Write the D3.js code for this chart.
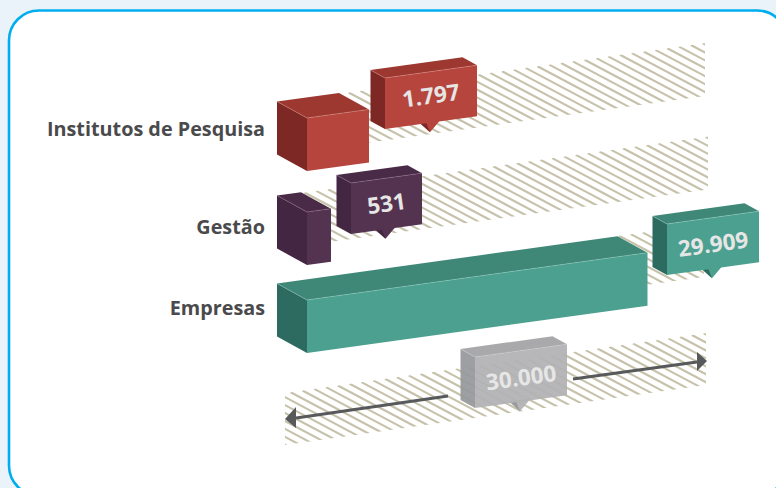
<!DOCTYPE html>
<html><head><meta charset="utf-8">
<style>html,body{margin:0;padding:0;background:#fff}svg{display:block}</style>
<script src="https://cdn.jsdelivr.net/npm/d3@7/dist/d3.min.js"></script>
</head><body><svg id="c" width="776" height="488"></svg>
<script>
const categories = ["Institutos de Pesquisa", "Gestão", "Empresas"];
const values = [1797, 531, 29909];
const valueLabels = ["1.797", "531", "29.909"];
const axisMax = 30000;
const axisLabel = "30.000";
// the original's bar lengths are not linear: piecewise stops
const scaleDomain = [0, 531, 1797, 29909, axisMax];
const scaleRange = [0, 24, 62, 340.5, 341.5];
const rowFrontY = [118, 212, 300];          // front-top-left corner y per row
const calloutAnchor = [[385,78],[351,183],[667,224]];  // callout front-top-left
const calloutWidth = [92,71,92];
const calloutTextNudge = [-3,-1.5,-0.5];
const palette = [
  {front:"#b5453d",top:"#9c3830",side:"#7d2824",edge:"#d98a84"},
  {front:"#543350",top:"#4a2b47",side:"#432642",edge:"#8d6f8a"},
  {front:"#4ca08f",top:"#3f8878",side:"#2d6b60",edge:"#8fc9bc"}
];
const greyCol = {front:"#b1b2b4",top:"#a2a3a5",side:"#97989b",edge:"#c9cacc"};

const svg = d3.select("#c");
const x = d3.scaleLinear().domain(scaleDomain).range(scaleRange);
const W=776,H=488,slope=-0.139,barH=53,dep=[-30,-16.5],cDep=[-14.5,-8],cH=51;
const path = d3.line();
const poly=(g,pts,fill,op)=>g.append("path").attr("d",path(pts)+"Z").attr("fill",fill).attr("fill-opacity",op==null?1:op);

svg.append("rect").attr("width",W).attr("height",H).attr("fill","#e9f3f9");
svg.append("rect").attr("x",9).attr("y",10.5).attr("width",778).attr("height",485).attr("rx",30)
  .attr("fill","#fff").attr("stroke","#00aeef").attr("stroke-width",2.6);

const defs=svg.append("defs");
function hatch(id,x0,y0,x1,s,h){
  const yAt=v=>y0+(v-x0)*s;
  defs.append("clipPath").attr("id",id).append("path")
    .attr("d",path([[x0,yAt(x0)],[x1,yAt(x1)],[x1,yAt(x1)+h],[x0,yAt(x0)+h]])+"Z");
  const g=svg.append("g").attr("clip-path",`url(#${id})`);
  const k=0.53;
  d3.range(x1+6-160*12,x1+6,11.8).forEach(tx=>{
    if(tx<x0-120)return;
    g.append("line").attr("x1",tx).attr("y1",yAt(tx))
      .attr("x2",tx+100).attr("y2",yAt(tx)+100*k)
      .attr("stroke","#c6c2aa").attr("stroke-width",2.1);
  });
}
hatch("h0",338,94,705,slope,53);
hatch("h1",301,193,708,slope,53);
hatch("h2",617,236,704,slope,53);
hatch("h3",285,393,706,-0.1425,52);

function box(g,tl,w,h,d,c,s,op){
  const tr=[tl[0]+w,tl[1]+w*s], bl=[tl[0],tl[1]+h], br=[tr[0],tr[1]+h];
  const D=p=>[p[0]+d[0],p[1]+d[1]];
  poly(g,[tl,tr,D(tr),D(tl)],c.top,op);
  poly(g,[tl,bl,D(bl),D(tl)],c.side,op);
  poly(g,[tl,tr,br,bl],c.front,op);
  g.append("path").attr("d",path([D(tl),tl,tr])).attr("fill","none").attr("stroke",c.edge).attr("stroke-width",.5);
}
function callout(tl,w,c,label,op,nudge){
  const g=svg.append("g");
  const s=slope, h=cH;
  const px=tl[0]+w*0.5;
  const baseY=v=>tl[1]+h+(v-tl[0])*s;
  poly(g,[[px-12,baseY(px-12)-2],[px+10,baseY(px+10)-2],[px-1,baseY(px-1)+9.5]],c.front,op);
  poly(g,[[px-12,baseY(px-12)-2],[px-5,baseY(px-5)-1],[px-1,baseY(px-1)+9.5]],c.side,op);
  box(g,tl,w,h,cDep,c,s,op);
  const cx=tl[0]+w/2, cy=tl[1]+h/2+w/2*s;
  g.append("text").attr("transform",`translate(${cx},${cy+1+nudge}) rotate(-8)`)
    .attr("text-anchor","middle").attr("dominant-baseline","central")
    .attr("font-family","'Open Sans'").attr("font-weight",700).attr("font-size",22.5)
    .attr("fill","#e6e6e6").text(label);
}
categories.forEach((name,i)=>{
  const g=svg.append("g");
  const c=palette[i];
  box(g,[307,rowFrontY[i]],x(values[i]),barH,dep,c,slope);
  callout(calloutAnchor[i],calloutWidth[i],c,valueLabels[i],1,calloutTextNudge[i]);
});
const labelBaseline=[136,233.5,314.5];
categories.forEach((name,i)=>{
  svg.append("text").attr("x",265).attr("y",labelBaseline[i]).attr("text-anchor","end")
    .attr("font-family","'Open Sans'").attr("font-weight",700)
    .attr("font-size",19.8).attr("fill","#4a4a4c").text(name);
});
const arrow=(a,b,tip,h1,h2)=>{
  svg.append("path").attr("d",path([a,b])).attr("stroke","#58595b").attr("stroke-width",3.2).attr("fill","none");
  svg.append("path").attr("d",path([tip,h1,h2])+"Z").attr("fill","#58595b");
};
arrow([448,396],[296,418],[285,419],[296,407],[296,428]);
arrow([573,379],[697,362],[707,361],[697,352],[697,371]);
callout([475,357],92,greyCol,axisLabel,.93,0);
</script></body></html>
